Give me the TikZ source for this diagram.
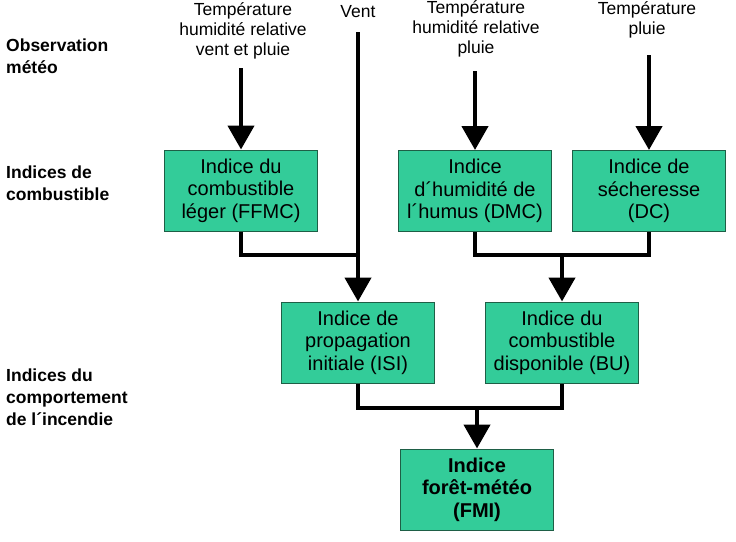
\documentclass[tikz,border=0pt]{standalone}
\usepackage{fontspec}
\setmainfont{Liberation Sans}
\usetikzlibrary{arrows.meta}
\definecolor{boxfill}{RGB}{51,204,153}
\definecolor{boxline}{RGB}{30,95,70}
\begin{document}
\begin{tikzpicture}[x=1pt,y=-1pt,
  idx/.style={draw=boxline,line width=1pt,fill=boxfill,minimum width=153pt,minimum height=81pt,
    inner sep=0pt,align=center,font=\fontsize{20}{22.5}\selectfont},
  toptxt/.style={align=center,inner sep=0pt,font=\fontsize{17.5}{20}\selectfont},
  lefttxt/.style={align=left,anchor=west,inner sep=0pt,font=\bfseries\fontsize{17.5}{22}\selectfont},
  conn/.style={line width=4.5pt},
  arr/.style={line width=4.5pt,-{Triangle[width=26pt,length=24pt]}}]
\useasboundingbox (0,0) rectangle (736,541);
% left labels
\node[lefttxt] (l1) at (6,56) {Observation\\météo};
\node[lefttxt] (l2) at (6,183) {Indices de\\combustible};
\node[lefttxt] (l3) at (6,397) {Indices du\\comportement\\de l´incendie};
% top inputs
\node[toptxt] (t1) at (243,31) {Température\\humidité relative\\vent et pluie};
\node[toptxt] (t2) at (358,12) {Vent};
\node[toptxt] (t3) at (476,29) {Température\\humidité relative\\pluie};
\node[toptxt] (t4) at (647,20) {Température\\pluie};
% boxes
\node[idx] (ffmc) at (241,190.5) {Indice du\\combustible\\léger (FFMC)};
\node[idx] (dmc) at (475,191) {Indice\\d´humidité de\\l´humus (DMC)};
\node[idx] (dc) at (649,191) {Indice de\\sécheresse\\(DC)};
\node[idx] (isi) at (358,342.5) {Indice de\\propagation\\initiale (ISI)};
\node[idx] (bu) at (562,342.5) {Indice du\\combustible\\disponible (BU)};
\node[idx,font=\bfseries\fontsize{20}{22.5}\selectfont] (fmi) at (477,489.5) {Indice\\forêt-météo\\(FMI)};
% coordinates
\coordinate (s1) at (241,68);
\coordinate (s2) at (358,32);
\coordinate (s3) at (475,71);
\coordinate (s4) at (649,55);
\coordinate (j1) at (358,255);
\coordinate (j2) at (562,255);
\coordinate (j3) at (477,408);
% connectors
\draw[arr] (s1) -- (ffmc.north);
\draw[arr] (s3) -- (dmc.north);
\draw[arr] (s4) -- (dc.north);
\draw[conn] (ffmc.south) |- (j1);
\draw[arr] (s2) -- (isi.north);
\draw[conn] (dmc.south) |- (j2) -| (dc.south);
\draw[arr] (j2) -- (bu.north);
\draw[conn] (isi.south) |- (j3) -| (bu.south);
\draw[arr] (j3) -- (fmi.north);
\end{tikzpicture}
\end{document}
